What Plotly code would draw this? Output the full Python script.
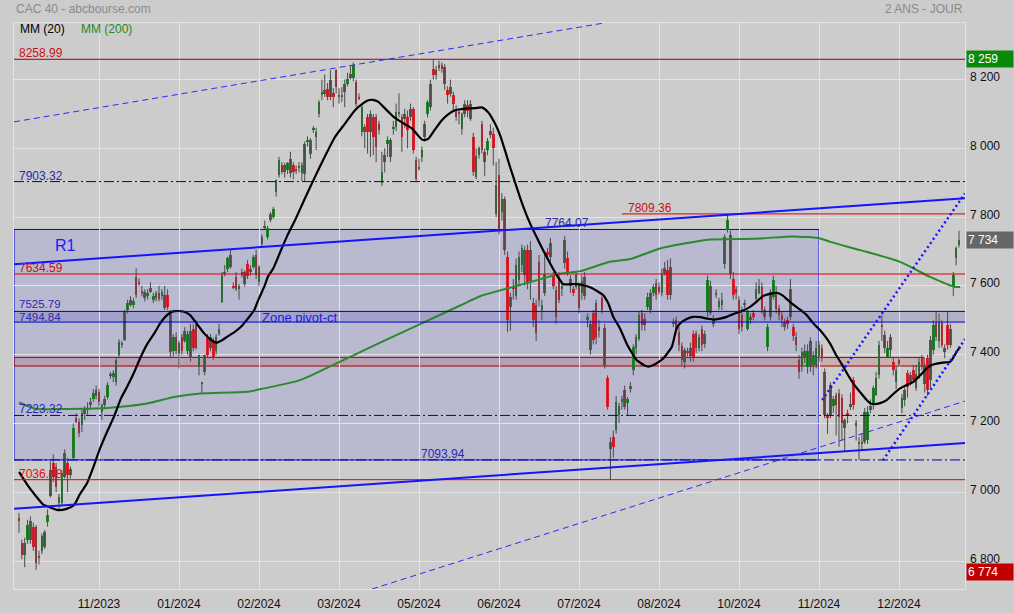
import plotly.graph_objects as go

# ---------------- data ----------------
opens = [6925,6852,6818,6860,6862,6900,6899,6810,6830,6842,6912,6990,7085,7073,6968,6968,7044,7085,7050,7099,
 7215,7204,7195,7228,7240,7253,7270,7280,7291,7233,7255,7276,7340,7335,7320,7398,7430,7442,7529,7558,
 7545,7625,7612,7585,7565,7570,7595,7560,7565,7580,7570,7575,7575,7524,7410,7450,7405,7450,7440,7410,
 7470,7475,7485,7365,7317,7350,7448,7450,7436,7410,7460,7553,7640,7650,7690,7600,7625,7590,7640,7605,
 7665,7640,7655,7689,7611,7723,7775,7742,7791,7800,7873,7922,7951,7931,7936,7970,7951,7935,7950,7927,
 7925,8019,7985,8052,8033,8101,8154,8159,8174,8150,8160,8227,8152,8150,8165,8188,8217,8205,8193,8150,
 8048,8048,8091,8101,8091,8091,8070,7898,7960,8014,7975,8057,8062,8101,8091,8086,8091,8115,8115,7965,
 7940,7975,8033,8101,8120,8232,8212,8241,8241,8236,8169,8159,8154,8115,8106,8057,8101,8125,8130,8033,
 7917,7980,8072,7990,7994,8050,8043,7810,7922,7815,7854,7684,7539,7600,7572,7617,7660,7631,7704,7704,
 7550,7544,7670,7530,7578,7700,7684,7630,7588,7620,7590,7666,7680,7620,7590,7597,7602,7580,7625,7500,
 7413,7520,7550,7480,7564,7477,7332,7127,7161,7180,7225,7262,7297,7260,7300,7355,7418,7447,7520,7505,
 7538,7530,7580,7607,7597,7578,7636,7646,7655,7490,7500,7466,7425,7380,7412,7420,7460,7462,7418,7475,
 7430,7524,7600,7490,7580,7540,7545,7665,7762,7747,7621,7590,7558,7515,7548,7476,7510,7520,7562,7580,
 7597,7530,7423,7510,7568,7583,7535,7515,7495,7500,7592,7480,7452,7384,7365,7410,7365,7440,7370,7370,
 7394,7420,7350,7222,7224,7250,7282,7288,7273,7186,7230,7248,7326,7200,7146,7141,7146,7152,7240,7258,
 7282,7340,7486,7457,7394,7452,7379,7321,7384,7244,7268,7347,7340,7356,7302,7340,7389,7316,7389,7326,
 7413,7491,7440,7491,7420,7486,7476,7597,7680,7718]
highs = [6940,6862,6868,6920,6930,6912,6905,6830,6880,6890,6950,7090,7110,7085,6995,7065,7125,7100,7075,7200,
 7230,7215,7240,7250,7262,7275,7300,7310,7300,7258,7280,7320,7350,7355,7390,7445,7440,7530,7560,7570,
 7565,7651,7622,7600,7590,7590,7610,7580,7585,7600,7590,7600,7590,7530,7460,7465,7440,7460,7480,7470,
 7490,7490,7500,7400,7320,7400,7460,7460,7450,7460,7490,7640,7660,7685,7705,7610,7640,7605,7650,7645,
 7675,7660,7690,7705,7660,7750,7790,7775,7815,7830,7910,7975,7960,7958,7960,7990,7960,7950,7960,7960,
 8020,8035,8030,8065,8060,8140,8200,8215,8190,8227,8175,8230,8175,8178,8200,8220,8240,8250,8200,8160,
 8130,8070,8100,8110,8100,8100,8080,7990,8000,8035,8030,8080,8130,8160,8100,8115,8110,8130,8120,7975,
 7970,8005,8080,8140,8200,8259,8240,8255,8250,8245,8180,8200,8165,8125,8115,8105,8140,8140,8140,8045,
 8000,8005,8080,8000,8030,8070,8060,7960,7970,7870,7860,7700,7580,7620,7680,7700,7720,7715,7720,7730,
 7565,7560,7690,7560,7700,7710,7740,7640,7600,7640,7610,7745,7700,7630,7600,7640,7610,7630,7640,7520,
 7500,7530,7560,7500,7570,7490,7340,7160,7180,7280,7260,7280,7310,7277,7320,7430,7460,7525,7530,7520,
 7580,7590,7605,7620,7610,7650,7670,7675,7680,7505,7510,7480,7435,7420,7420,7435,7470,7470,7460,7485,
 7470,7630,7615,7515,7590,7565,7580,7750,7808,7760,7640,7600,7570,7540,7560,7530,7520,7530,7610,7620,
 7610,7540,7490,7590,7630,7600,7545,7525,7505,7510,7620,7490,7465,7400,7420,7430,7430,7450,7410,7440,
 7440,7430,7360,7230,7320,7280,7290,7300,7285,7215,7240,7290,7335,7210,7160,7170,7245,7250,7270,7310,
 7350,7440,7515,7470,7440,7460,7390,7365,7395,7285,7305,7355,7350,7370,7370,7390,7400,7375,7400,7455,
 7500,7525,7520,7500,7430,7525,7490,7640,7715,7760]
lows = [6882,6805,6782,6850,6850,6830,6774,6790,6820,6835,6900,6985,7030,7000,6950,6960,7040,7000,7040,7095,
 7200,7160,7175,7210,7225,7240,7262,7270,7250,7210,7245,7270,7330,7320,7310,7390,7420,7440,7520,7540,
 7535,7565,7600,7570,7555,7560,7580,7550,7555,7555,7560,7530,7530,7390,7395,7400,7360,7400,7435,7400,
 7380,7410,7415,7340,7287,7340,7390,7410,7385,7400,7455,7550,7628,7640,7650,7590,7585,7560,7625,7598,
 7620,7630,7650,7620,7600,7715,7765,7735,7785,7795,7859,7915,7925,7915,7925,7915,7910,7925,7930,7905,
 7905,8005,7970,8045,7995,8090,8140,8150,8140,8140,8120,8160,8130,8135,8120,8180,8200,8195,8120,8140,
 8035,8000,7985,7975,7980,7960,8040,7890,7930,7975,7960,8040,8050,8090,7990,8060,8000,8080,7985,7905,
 7935,7960,8020,8090,8110,8200,8200,8225,8220,8170,8130,8150,8110,8080,8070,8040,8090,8090,8080,7920,
 7910,7970,7985,7920,7980,8030,7950,7800,7750,7790,7690,7466,7470,7560,7560,7600,7640,7600,7590,7560,
 7480,7440,7540,7500,7570,7680,7670,7590,7490,7550,7570,7650,7630,7580,7570,7590,7520,7560,7560,7480,
 7400,7430,7430,7450,7520,7360,7240,7036,7100,7170,7200,7240,7240,7224,7290,7340,7400,7440,7470,7470,
 7530,7520,7570,7560,7575,7570,7630,7560,7560,7480,7470,7410,7370,7360,7395,7380,7380,7405,7410,7410,
 7420,7510,7515,7480,7565,7530,7530,7650,7755,7620,7560,7560,7460,7467,7535,7470,7490,7500,7550,7575,
 7520,7500,7410,7500,7560,7520,7500,7480,7470,7475,7500,7440,7410,7330,7350,7375,7345,7350,7340,7360,
 7380,7380,7215,7170,7215,7230,7165,7132,7150,7120,7200,7240,7240,7150,7094,7120,7140,7140,7230,7240,
 7280,7330,7440,7405,7390,7390,7340,7300,7365,7230,7250,7275,7310,7320,7295,7330,7355,7290,7280,7300,
 7400,7440,7420,7420,7390,7415,7420,7570,7660,7712]
closes = [6915,6818,6852,6905,6915,6840,6795,6815,6872,6884,6935,7065,7045,7015,6985,7055,7114,7050,7068,7186,
 7204,7172,7230,7244,7242,7262,7290,7298,7262,7253,7270,7311,7345,7348,7384,7437,7432,7524,7550,7544,
 7556,7573,7605,7580,7583,7580,7582,7570,7578,7562,7582,7535,7538,7407,7450,7412,7433,7410,7470,7460,
 7390,7420,7420,7398,7318,7398,7398,7420,7390,7452,7475,7631,7635,7680,7655,7595,7592,7600,7632,7640,
 7630,7650,7683,7631,7654,7742,7768,7767,7810,7825,7907,7965,7931,7951,7956,7927,7931,7940,7945,7951,
 8014,8024,8024,8058,8048,8135,8164,8169,8150,8198,8150,8178,8150,8152,8188,8203,8206,8241,8130,8146,
 8120,8062,8048,8048,8033,8004,8052,7931,7980,8023,8023,8062,8106,8106,8033,8101,8052,8091,7994,7912,
 7946,7994,8072,8135,8188,8212,8227,8236,8232,8188,8154,8178,8130,8091,8100,8101,8130,8110,8086,7931,
 7977,8000,7994,7960,8020,8040,8000,7892,7762,7854,7704,7500,7568,7590,7660,7685,7709,7704,7607,7615,
 7500,7462,7560,7545,7636,7690,7724,7600,7509,7560,7600,7733,7641,7600,7580,7631,7535,7615,7570,7510,
 7490,7442,7448,7470,7529,7370,7248,7146,7132,7263,7250,7270,7248,7270,7310,7422,7452,7515,7486,7486,
 7568,7580,7597,7573,7583,7636,7651,7573,7573,7495,7478,7428,7384,7415,7405,7395,7394,7418,7452,7428,
 7460,7617,7520,7505,7575,7555,7560,7742,7791,7636,7573,7580,7476,7480,7545,7524,7500,7510,7592,7600,
 7529,7510,7481,7583,7617,7534,7515,7500,7480,7490,7510,7455,7428,7350,7408,7390,7410,7365,7400,7418,
 7428,7390,7224,7215,7311,7270,7253,7219,7200,7210,7225,7258,7253,7195,7141,7146,7234,7234,7250,7302,
 7331,7428,7481,7418,7418,7413,7355,7355,7374,7273,7297,7307,7320,7326,7345,7379,7365,7369,7298,7444,
 7486,7452,7491,7428,7409,7428,7428,7631,7709,7734]

# moving averages, read as (bar index, value) points
ma20_idx = [0,2.8,5.6,8.4,10.9,13.6,16.4,19.2,21.3,23.8,25.9,28.4,30.8,33.2,35.7,37.8,40.3,42.6,44.8,47.3,
 49.4,51.8,53.9,55.3,57.8,59.9,62.3,64.8,66.9,69,71.1,73.2,75.3,77.7,80.2,82.3,83.7,85.8,87.2,89,
 91.4,93.8,96.6,100.1,103.6,107.1,110.6,114.1,117.6,120.4,122.3,123.9,125.8,127.4,129.3,130.9,132.8,135.1,137.5,139.3,
 141,142.1,143.3,145.6,148,150.2,152.6,155,157.3,159.6,162,164.2,166.6,168.4,170.1,171.9,173.6,175.7,178.9,181.7,
 184.7,187.6,190.5,192.8,195.2,197.4,199.9,202.3,204.5,206.2,208,210.3,212.7,214.6,216.2,217.4,218.8,220.3,221.9,223.7,
 225.5,227.2,228.5,230.2,231.4,233.5,236,238.4,240.8,243,245.4,247.7,249.9,252.4,255.9,258,260.5,262.9,265.2,267.1,
 269.9,272.7,275.7,278,280.4,282.1,283.9,286,288.5,290.2,292,294.4,296.7,297.9,299.6,301.4,303.7,305.9,308.4,310.5,
 313,315.4,317.7,319.2,321.2,323.4,325.9,326.9,328.3,329.4]
ma20_val = [7059,7023,6992,6965,6956,6948,6951,6962,6994,7026,7070,7128,7175,7219,7273,7306,7349,7393,7430,7461,
 7491,7515,7526,7527,7525,7515,7489,7462,7445,7435,7442,7454,7465,7481,7506,7529,7558,7597,7628,7651,
 7698,7744,7791,7855,7917,7977,8033,8072,8111,8131,8140,8141,8135,8122,8106,8093,8082,8070,8058,8041,
 8026,8024,8028,8055,8082,8099,8111,8114,8116,8117,8119,8105,8072,8038,7994,7945,7902,7849,7781,7733,
 7684,7640,7605,7605,7605,7602,7596,7585,7573,7550,7510,7477,7432,7404,7384,7377,7369,7365,7369,7378,
 7389,7407,7423,7477,7491,7503,7510,7509,7505,7502,7505,7510,7518,7525,7539,7553,7571,7577,7580,7573,
 7553,7535,7515,7491,7471,7454,7432,7399,7365,7340,7316,7291,7268,7259,7256,7259,7268,7285,7302,7311,
 7321,7340,7360,7369,7374,7377,7379,7390,7410,7423]
ma200_idx = [0,6.2,13.3,30.8,44.8,54.3,63.4,79.8,85.8,98.4,112.4,126.4,140.4,154.4,161.4,168.4,178.9,189.8,196.4,206.8,
 213.9,224.4,231.4,241.9,248.9,259.4,270.9,280.4,283.9,294.4,308.4,318.9,327.6,329.4]
ma200_val = [7261,7242,7242,7245,7258,7277,7287,7292,7302,7326,7380,7435,7489,7543,7570,7587,7611,7636,7643,7670,
 7678,7709,7721,7735,7736,7738,7744,7738,7728,7704,7670,7626,7597,7597]

# axes
tick_idx = [28, 56, 84, 112, 140, 168, 196, 224, 252, 280, 308]
tick_labels = ["11/2023", "01/2024", "02/2024", "03/2024", "05/2024", "06/2024",
               "07/2024", "08/2024", "10/2024", "11/2024", "12/2024"]
y_ticks = [6800, 7000, 7200, 7400, 7600, 7800, 8000, 8200]
y_tick_labels = ["6 800", "7 000", "7 200", "7 400", "7 600", "7 800", "8 000", "8 200"]
x_range = [-1.75, 331.1]
y_range = [6718.6, 8364.5]

# horizontal levels
level_high = 8258.99
level_r2 = 7903.32
level_r1b = 7809.36
zone_top = 7764.07
level_red1 = 7634.59
pivot_top = 7525.79
pivot_bot = 7494.84
red_zone = [7367, 7392]
level_s1 = 7223.32
zone_bot = 7093.94
level_low = 7036.48
zone_end_idx = 280
red_zone_end_idx = 316.8
r1b_start_idx = 211

# trend lines: (x0, y0, x1, y1)
tl_low_solid = (-1.75, 6952, 331.1, 7143)
tl_up_solid = (-1.75, 7663, 331.1, 7855)
tl_up_dash = (-1.75, 8077, 204.8, 8364.5)
tl_low_dash = (123.6, 6718.6, 331.1, 7265)
tl_dot_a = (281.1, 7268, 331.1, 7869)
tl_dot_b = (302.4, 7093, 331.1, 7445)

last_high = 8259
last_price = 7734
period_low = 6774

# ---------------- figure ----------------
FONT = "Arial, 'Liberation Sans', sans-serif"
GREEN = "#1c8526"
RED = "#e41e2b"
BLUE = "#1414ff"
NAVY = "#0000a8"
LBLUE = "#2a2ab0"

n = len(closes)
idx = list(range(n))

wx, wy = [], []
for i in idx:
    wx += [i, i, None]
    wy += [min(lows[i], opens[i], closes[i]), max(highs[i], opens[i], closes[i]), None]

body_h = [max(abs(c - o), 2.5) for o, c in zip(opens, closes)]
body_b = [min(o, c) for o, c in zip(opens, closes)]
body_c = [GREEN if c >= o else RED for o, c in zip(opens, closes)]

fig = go.Figure()
fig.add_trace(go.Scatter(x=wx, y=wy, mode="lines", line=dict(color="#4a4a4a", width=1),
                         hoverinfo="skip", showlegend=False))
fig.add_trace(go.Bar(x=idx, y=body_h, base=body_b, width=0.88,
                     marker=dict(color=body_c, line=dict(width=0)), showlegend=False, hoverinfo="skip"))
fig.add_trace(go.Scatter(x=ma200_idx, y=ma200_val, mode="lines",
                         line=dict(color="#2b8a2b", width=2, shape="spline", smoothing=0.6),
                         showlegend=False, hoverinfo="skip"))
fig.add_trace(go.Scatter(x=ma20_idx, y=ma20_val, mode="lines",
                         line=dict(color="#000000", width=2.2, shape="spline", smoothing=0.6),
                         showlegend=False, hoverinfo="skip"))

shapes = []
shapes.append(dict(type="rect", xref="x", yref="y", x0=x_range[0], x1=zone_end_idx, y0=zone_bot, y1=zone_top,
                   fillcolor="rgba(0,0,255,0.09)", line=dict(color="#0000e0", width=1), layer="below"))
shapes.append(dict(type="rect", xref="paper", yref="y", x0=0, x1=1, y0=pivot_bot, y1=pivot_top,
                   fillcolor="rgba(0,0,150,0.13)", line=dict(width=0), layer="below"))
shapes.append(dict(type="rect", xref="x", yref="y", x0=x_range[0], x1=red_zone_end_idx, y0=red_zone[0], y1=red_zone[1],
                   fillcolor="rgba(200,0,0,0.14)", line=dict(color="#a00000", width=1), layer="below"))

def hline(y, color, dash="solid", x0=None, x1=None, width=1):
    if x0 is None:
        return dict(type="line", xref="paper", yref="y", x0=0, x1=1, y0=y, y1=y,
                    line=dict(color=color, width=width, dash=dash), layer="above")
    return dict(type="line", xref="x", yref="y", x0=x0, x1=x1, y0=y, y1=y,
                line=dict(color=color, width=width, dash=dash), layer="above")

DD = "10px,3px,2px,3px"
shapes += [
    hline(level_high, "#a00000"),
    hline(level_r2, NAVY, DD),
    hline(level_r1b, "#e00000", x0=r1b_start_idx, x1=x_range[1]),
    hline(level_red1, "#d80000"),
    hline(pivot_top, "#0000c8"),
    hline(pivot_bot, "#0000c8"),
    hline(level_s1, NAVY, DD),
    hline(zone_bot, NAVY, DD),
    hline(level_low, "#e00000"),
]

def seg(t, color, width, dash):
    return dict(type="line", xref="x", yref="y", x0=t[0], y0=t[1], x1=t[2], y1=t[3],
                line=dict(color=color, width=width, dash=dash), layer="above")

shapes += [
    seg(tl_low_solid, BLUE, 2, "solid"),
    seg(tl_up_solid, BLUE, 2, "solid"),
    seg(tl_up_dash, "#2a2aff", 1, "6px,4px"),
    seg(tl_low_dash, "#2a2aff", 1, "6px,4px"),
    seg(tl_dot_a, BLUE, 2.5, "2px,3px"),
    seg(tl_dot_b, BLUE, 2.5, "2px,3px"),
]

def px_x(p):
    return (p - 14) / 951.0

annots = []
def lab(text, xpix, y, color, size=12, yanchor="bottom", height=11, yshift=0):
    annots.append(dict(text=text, xref="paper", yref="y", x=px_x(xpix), y=y, xanchor="left",
                       yanchor=yanchor, showarrow=False, font=dict(family=FONT, size=size, color=color),
                       borderpad=0, height=height, valign="middle", yshift=yshift))

lab("8258.99", 18, level_high, "#cc1010")
lab("7903.32", 18, level_r2, LBLUE)
lab("7634.59", 18, level_red1, "#cc1010")
lab("7525.79", 18, pivot_top, LBLUE, size=11.5, height=10, yshift=1)
lab("7494.84", 18, pivot_bot, LBLUE, size=11.5, height=10, yshift=-1)
lab("7223.32", 18, level_s1, LBLUE)
lab("7036.48", 18, level_low, "#e01010")
lab("7093.94", 420, zone_bot, LBLUE)
lab("7764.07", 544, zone_top, LBLUE)
lab("7809.36", 627, level_r1b, "#cc1010")
lab("R1", 54, (zone_top + level_red1) / 2 + 20, "#1a1aff", size=16, yanchor="middle", height=16)
lab("Zone pivot-ct", 261, (pivot_top + pivot_bot) / 2, "#1a1ae0", size=13, yanchor="middle", height=12)

annots.append(dict(text="CAC 40 - abcbourse.com", xref="paper", yref="paper", x=0, y=1.024,
                   xanchor="left", yanchor="middle", showarrow=False,
                   font=dict(family=FONT, size=12, color="#8a8a8a")))
annots.append(dict(text="2 ANS - JOUR", xref="paper", yref="paper", x=1, y=1.024,
                   xanchor="right", yanchor="middle", showarrow=False,
                   font=dict(family=FONT, size=12, color="#8a8a8a")))
annots.append(dict(text="MM (20)", xref="paper", yref="paper", x=px_x(18), y=0.989,
                   xanchor="left", yanchor="middle", showarrow=False,
                   font=dict(family=FONT, size=12, color="#000000")))
annots.append(dict(text="MM (200)", xref="paper", yref="paper", x=px_x(79), y=0.989,
                   xanchor="left", yanchor="middle", showarrow=False,
                   font=dict(family=FONT, size=12, color="#1f8a1f")))

# right-axis value labels (slightly above their gridlines, as in the reference)
for val, txt in zip(y_ticks, y_tick_labels):
    annots.append(dict(text=txt, xref="paper", yref="y", x=px_x(969), y=val, xanchor="left",
                       yanchor="middle", showarrow=False, yshift=2.5, height=10, borderpad=0,
                       font=dict(family=FONT, size=12, color="#111111")))

for val, bg, ys in [(last_high, "#0a8a0a", 0), (last_price, "#666666", 0), (period_low, "#c00000", -2)]:
    annots.append(dict(text=f"{val:,}".replace(",", " "), xref="paper", yref="y", x=px_x(966), y=val,
                       xanchor="left", yanchor="middle", showarrow=False, align="left",
                       width=44, height=14, bgcolor=bg, borderpad=1, yshift=ys,
                       font=dict(family=FONT, size=12, color="#ffffff")))

fig.update_layout(
    width=1014, height=613,
    margin=dict(l=14, r=49, t=23, b=24, autoexpand=False),
    paper_bgcolor="#cccccc", plot_bgcolor="#cccccc",
    shapes=shapes, annotations=annots,
    showlegend=False, hovermode=False, bargap=0,
    font=dict(family=FONT, size=12, color="#111111"),
    xaxis=dict(range=x_range, tickmode="array", tickvals=tick_idx, ticktext=tick_labels,
               showgrid=True, gridcolor="#e4e4e4", gridwidth=1, zeroline=False, ticks="",
               showline=True, linecolor="#e4e4e4", mirror=True, ticklabelstandoff=4, automargin=False,
               tickfont=dict(family=FONT, size=12, color="#111111"), fixedrange=True),
    yaxis=dict(range=y_range, side="right", tickmode="array", tickvals=y_ticks,
               showticklabels=False,
               showgrid=True, gridcolor="#e4e4e4", gridwidth=1, zeroline=False, ticks="",
               showline=True, linecolor="#e4e4e4", mirror=True, automargin=False, fixedrange=True),
)

fig.write_html("out.html", config={"displayModeBar": False},
               post_script="document.body.style.margin='0';document.body.style.overflow='hidden';")
